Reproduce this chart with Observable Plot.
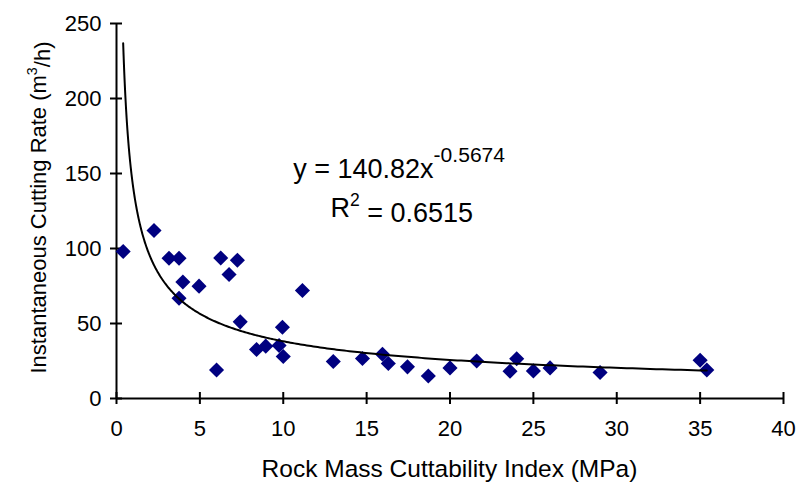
<!DOCTYPE html>
<html>
<head>
<meta charset="utf-8">
<script src="https://cdn.jsdelivr.net/npm/d3@7"></script>
<script src="https://cdn.jsdelivr.net/npm/@observablehq/plot@0.6"></script>
<style>
  html, body { margin: 0; padding: 0; background: #fff; }
  #chart { width: 797px; height: 491px; }
</style>
</head>
<body>
<div id="chart"></div>
<script>
// Data
const rmci = [0.4, 2.25, 3.15, 3.75, 3.98, 3.75, 4.95, 6.0, 6.25, 6.75, 7.25, 7.42, 8.4, 8.95, 9.75, 9.95, 10.0, 11.15, 13.0, 14.75, 15.95, 16.3, 17.45, 18.7, 20.0, 21.6, 23.6, 24.0, 25.0, 26.0, 29.0, 35.0, 35.4];
const icr  = [98, 112, 93.5, 93.5, 77.7, 66.8, 74.9, 19, 93.7, 82.7, 92.2, 51.1, 32.7, 34.9, 35.3, 47.5, 28, 72, 24.7, 26.7, 29.5, 23.3, 21.1, 15, 20.4, 25, 18.2, 26.5, 18.4, 20.4, 17.3, 25.5, 19];

// Power trendline shown on chart: y = 140.82 x^-0.5674
const fitA = 140.82;
const fitB = -0.5674;

const xTicks = [0, 5, 10, 15, 20, 25, 30, 35, 40];
const yTicks = [0, 50, 100, 150, 200, 250];
const xLabel = "Rock Mass Cuttability Index (MPa)";
const yLabel = ["Instantaneous Cutting Rate (m", "3", "/h)"];
const eqMain = "y = 140.82x";
const eqExp = "-0.5674";
const r2Text = ["R", "2", " = 0.6515"];
// annotation anchor points (data coordinates)
const eqPos = {x: 10.6, y: 153};
const r2Pos = {x: 12.83, y: 127};

const points = rmci.map((x, i) => ({x, y: icr[i]}));
const xMin = d3.min(rmci), xMax = d3.max(rmci);
const curve = d3.range(0, 401).map(i => {
  const x = xMin * Math.pow(xMax / xMin, i / 400);
  return {x, y: fitA * Math.pow(x, fitB)};
});

const font = "'Liberation Sans', Arial, Helvetica, sans-serif";

const chart = Plot.plot({
  width: 797,
  height: 491,
  marginLeft: 116,
  marginRight: 14,
  marginTop: 23,
  marginBottom: 93,
  style: {fontFamily: font, fontSize: "22px", color: "black", background: "white"},
  x: {domain: [0, 40]},
  y: {domain: [0, 250]},
  marks: [
    Plot.axisX(xTicks, {tickSize: 6, tickPadding: 16, fontSize: 22, label: null, stroke: "black", strokeWidth: 2}),
    Plot.axisX(xTicks, {tickSize: -6, tickFormat: () => "", label: null, stroke: "black", strokeWidth: 2}),
    Plot.axisY(yTicks, {tickSize: 6, tickPadding: 9, fontSize: 22, label: null, stroke: "black", strokeWidth: 2}),
    Plot.axisY(yTicks, {tickSize: -6, tickFormat: () => "", label: null, stroke: "black", strokeWidth: 2}),
    Plot.ruleX([0], {stroke: "black", strokeWidth: 2}),
    Plot.ruleY([0], {stroke: "black", strokeWidth: 2}),
    Plot.dot(points, {x: "x", y: "y", symbol: "diamond2", r: 6.8, fill: "#000080", stroke: "none"}),
    Plot.line(curve, {x: "x", y: "y", stroke: "black", strokeWidth: 2}),
    Plot.text([eqPos], {x: "x", y: "y", text: () => eqMain, textAnchor: "start", fontSize: 27, fill: "black"}),
    Plot.text([r2Pos], {x: "x", y: "y", text: () => r2Text.join(""), textAnchor: "start", fontSize: 27, fill: "black"})
  ]
});

document.getElementById("chart").appendChild(chart);

const svg = d3.select(chart);
// superscripts in annotations
svg.selectAll("text").filter(function() { return this.textContent === eqMain; }).each(function() {
  const t = d3.select(this);
  t.text(null);
  t.append("tspan").text(eqMain);
  t.append("tspan").attr("dy", "-0.75em").attr("font-size", "0.78em").text(eqExp);
});
svg.selectAll("text").filter(function() { return this.textContent === r2Text.join(""); }).each(function() {
  const t = d3.select(this);
  t.text(null);
  t.append("tspan").text(r2Text[0]);
  t.append("tspan").attr("dy", "-0.6em").attr("font-size", "0.65em").text(r2Text[1]);
  t.append("tspan").attr("dy", "0.6em").attr("font-size", "1em").text(r2Text[2]);
});

// axis titles
const xs = chart.scale("x"), ys = chart.scale("y");
const cx = (xs.apply(0) + xs.apply(40)) / 2;
svg.append("text")
  .attr("x", cx).attr("y", ys.apply(0) + 70)
  .attr("text-anchor", "middle").attr("dy", "0.35em")
  .attr("font-family", font).attr("font-size", 24.5).attr("fill", "black")
  .text(xLabel);
const cy = (ys.apply(0) + ys.apply(250)) / 2 - 3;
const yl = svg.append("text")
  .attr("transform", `translate(${xs.apply(0) - 78},${cy}) rotate(-90)`)
  .attr("text-anchor", "middle").attr("dy", "0.35em")
  .attr("font-family", font).attr("font-size", 22).attr("fill", "black");
yl.append("tspan").text(yLabel[0]);
yl.append("tspan").attr("dy", "-0.6em").attr("font-size", "0.65em").text(yLabel[1]);
yl.append("tspan").attr("dy", "0.6em").attr("font-size", "1em").text(yLabel[2]);
</script>
</body>
</html>
